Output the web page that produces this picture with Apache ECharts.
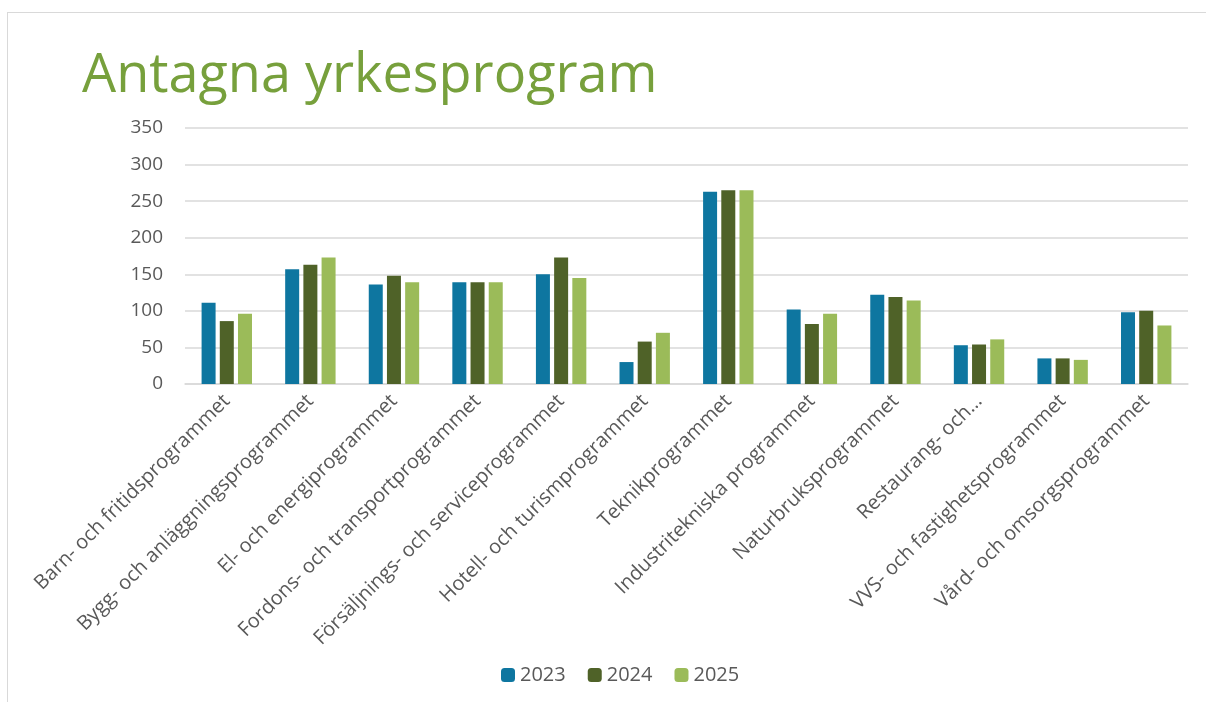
<!DOCTYPE html>
<html>
<head>
<meta charset="utf-8">
<script src="https://cdn.jsdelivr.net/npm/echarts@6/dist/echarts.min.js"></script>
<style>
  html, body { margin: 0; padding: 0; background: #fff; }
  #frame { position: absolute; left: 7px; top: 12px; width: 1210px; height: 700px; border: 1px solid #d9d9d9; box-sizing: border-box; }
  #chart { position: absolute; left: 0; top: 0; width: 1206px; height: 702px; }
</style>
</head>
<body>
<div id="frame"></div>
<div id="chart"></div>
<script>
const categories = [
    'Barn- och fritidsprogrammet',
    'Bygg- och anläggningsprogrammet',
    'El- och energiprogrammet',
    'Fordons- och transportprogrammet',
    'Försäljnings- och serviceprogrammet',
    'Hotell- och turismprogrammet',
    'Teknikprogrammet',
    'Industritekniska programmet',
    'Naturbruksprogrammet',
    'Restaurang- och…',
    'VVS- och fastighetsprogrammet',
    'Vård- och omsorgsprogrammet'
];
const years = ['2023', '2024', '2025'];
const values2023 = [111, 157, 136, 139, 150, 30, 263, 102, 122, 53, 35, 98];
const values2024 = [86, 163, 148, 139, 173, 58, 265, 82, 119, 54, 35, 100];
const values2025 = [96, 173, 139, 139, 145, 70, 265, 96, 114, 61, 33, 80];
const colors = ['#0e76a0', '#4f6228', '#9bbb59'];

const chart = echarts.init(document.getElementById('chart'));
const seriesData = [values2023, values2024, values2025];

chart.setOption({
    animation: false,
    title: {
        text: 'Antagna yrkesprogram',
        left: 77,
        top: 45,
        textStyle: { color: '#77a03c', fontSize: 54, fontWeight: 'normal', fontFamily: 'Open Sans' }
    },
    legend: {
        bottom: 12,
        left: 496,
        itemWidth: 14,
        itemHeight: 14,
        itemGap: 22,
        textStyle: { color: '#595959', fontSize: 20, fontFamily: 'Open Sans' },
        data: years
    },
    grid: { left: 185, right: 18, top: 128, bottom: 318 },
    xAxis: {
        type: 'category',
        data: categories,
        axisLine: { lineStyle: { color: '#d9d9d9', width: 1.5 } },
        axisTick: { show: false },
        axisLabel: {
            rotate: 45,
            interval: 0,
            margin: 14,
            color: '#595959',
            fontSize: 20,
            fontFamily: 'Open Sans'
        }
    },
    yAxis: {
        type: 'value',
        min: 0,
        max: 350,
        interval: 50,
        axisLine: { show: false },
        axisTick: { show: false },
        splitLine: { lineStyle: { color: '#d9d9d9', width: 1.5 } },
        axisLabel: { color: '#595959', fontSize: 19, fontFamily: 'Open Sans', margin: 22 }
    },
    series: years.map((y, i) => ({
        name: y,
        type: 'bar',
        data: seriesData[i],
        barWidth: 14,
        barGap: '30%',
        itemStyle: { color: colors[i] }
    }))
});
</script>
</body>
</html>
